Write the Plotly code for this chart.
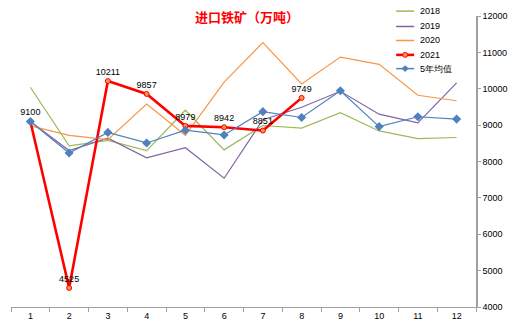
import plotly.graph_objects as go

months = ["1", "2", "3", "4", "5", "6", "7", "8", "9", "10", "11", "12"]
y2018 = [10040, 8430, 8580, 8300, 9410, 8320, 8990, 8920, 9340, 8840, 8630, 8660]
y2019 = [9100, 8300, 8640, 8100, 8380, 7540, 9150, 9490, 9930, 9300, 9060, 10160]
y2020 = [8980, 8720, 8600, 9580, 8720, 10180, 11270, 10130, 10870, 10670, 9820, 9670]
y2021 = [9100, 4525, 10211, 9857, 8979, 8942, 8851, 9749]
avg5 = [9100, 8235, 8800, 8510, 8860, 8730, 9370, 9210, 9945, 8960, 9230, 9165]
y_ticks = [4000, 5000, 6000, 7000, 8000, 9000, 10000, 11000, 12000]
series_names = ["2018", "2019", "2020", "2021", "5年均值"]
colors = ["#9BBB59", "#8064A2", "#F79646", "#FF0000", "#4F81BD"]

W, H = 519, 332
ML, MR, MT, MB = 11, 42, 12, 23
PW, PH = W - ML - MR, H - MT - MB


def px_x(px):
    return (px - ML) / PW


def px_y(py):
    return (H - MB - py) / PH


fig = go.Figure()
fig.add_trace(go.Scatter(x=months, y=y2018, name=series_names[0], mode="lines",
                         line=dict(color=colors[0], width=1.2)))
fig.add_trace(go.Scatter(x=months, y=y2019, name=series_names[1], mode="lines",
                         line=dict(color=colors[1], width=1.2)))
fig.add_trace(go.Scatter(x=months, y=y2020, name=series_names[2], mode="lines",
                         line=dict(color=colors[2], width=1.2)))
fig.add_trace(go.Scatter(x=months[:len(y2021)], y=y2021, name=series_names[3],
                         mode="lines+markers+text",
                         line=dict(color=colors[3], width=2.6),
                         marker=dict(symbol="circle", size=5, color="#F79646",
                                     line=dict(color="#FF0000", width=1)),
                         text=[str(v) for v in y2021], textposition="top center",
                         textfont=dict(family="Liberation Sans, Arial", size=9, color="#000000")))
fig.add_trace(go.Scatter(x=months, y=avg5, name=series_names[4], mode="lines+markers",
                         line=dict(color=colors[4], width=1.2),
                         marker=dict(symbol="diamond", size=7, color="#4F81BD")))

# manual legend (compact, like the reference)
shapes = []
annotations = []
row_y = [7, 22.7, 37, 51.7, 65.7]
x0, x1, xt = 397, 415, 419
for i, (nm, c) in enumerate(zip(series_names, colors)):
    yy = px_y(row_y[i])
    lw = 2.6 if i == 3 else 1.5
    shapes.append(dict(type="line", xref="paper", yref="paper", x0=px_x(x0), x1=px_x(x1),
                       y0=yy, y1=yy, line=dict(color=c, width=lw)))
    xm = (x0 + x1) / 2
    if i == 3:
        shapes.append(dict(type="circle", xref="paper", yref="paper",
                           x0=px_x(xm - 2.5), x1=px_x(xm + 2.5),
                           y0=px_y(row_y[i] + 2.5), y1=px_y(row_y[i] - 2.5),
                           fillcolor="#F79646", line=dict(color="#FF0000", width=1)))
    if i == 4:
        d = 3.5
        path = "M {} {} L {} {} L {} {} L {} {} Z".format(
            px_x(xm - d), yy, px_x(xm), px_y(row_y[i] - d),
            px_x(xm + d), yy, px_x(xm), px_y(row_y[i] + d))
        shapes.append(dict(type="path", xref="paper", yref="paper", path=path,
                           fillcolor="#4F81BD", line=dict(color="#4F81BD", width=0)))
    annotations.append(dict(text=nm, xref="paper", yref="paper", x=px_x(xt), y=yy,
                            xanchor="left", yanchor="middle", showarrow=False,
                            font=dict(family="Liberation Sans, Arial", size=9, color="#000000")))

annotations.append(dict(text="<b>进口铁矿（万吨）</b>", xref="paper", yref="paper",
                        x=px_x(248), y=px_y(12), showarrow=False,
                        xanchor="center", yanchor="middle",
                        font=dict(family="Noto Sans CJK SC", size=13, color="#FF0000")))

fig.update_layout(
    width=W, height=H,
    margin=dict(l=ML, r=MR, t=MT, b=MB),
    paper_bgcolor="white", plot_bgcolor="white",
    font=dict(family="Liberation Sans, Arial", size=9, color="#000000"),
    showlegend=False,
    shapes=shapes,
    annotations=annotations,
    xaxis=dict(type="category", tickson="boundaries", ticks="outside", ticklen=4,
               tickcolor="#A0A0A0", showline=True, linecolor="#A0A0A0", linewidth=1,
               showgrid=False, zeroline=False, range=[-0.5, 11.5],
               tickfont=dict(size=9)),
    yaxis=dict(side="right", range=[4000, 12000], tickvals=y_ticks,
               ticktext=[str(v) for v in y_ticks],
               ticks="outside", ticklen=3, tickcolor="#A0A0A0",
               showline=True, linecolor="#A0A0A0", linewidth=1.5,
               showgrid=False, zeroline=False, tickfont=dict(size=9)),
)

fig.write_html("out.html")
